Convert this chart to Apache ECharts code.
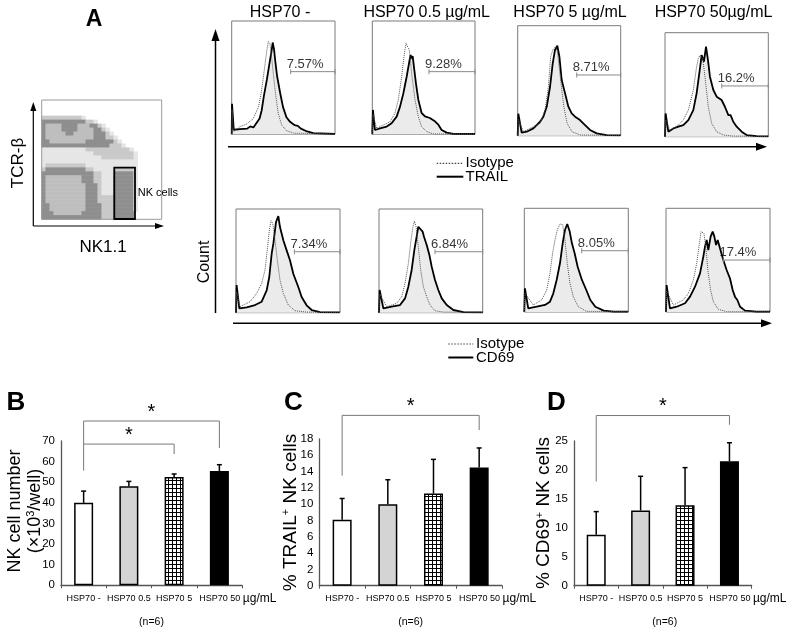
<!DOCTYPE html>
<html>
<head>
<meta charset="utf-8">
<script src="https://cdn.jsdelivr.net/npm/echarts@6/dist/echarts.min.js"></script>
<style>
html, body { margin: 0; padding: 0; background: #fff; }
#chart { width: 789px; height: 633px; }
</style>
</head>
<body>
<div id="chart"></div>
<script>
// ---- data ----
const groups = ['HSP70 -', 'HSP70 0.5', 'HSP70 5', 'HSP70 50'];
const unit = 'µg/mL';
const headers = ['HSP70 -', 'HSP70 0.5 µg/mL', 'HSP70 5 µg/mL', 'HSP70 50µg/mL'];

// B: NK cell number (x10^3/well), mean and SD
const nkMean = [40.0, 48.0, 52.5, 55.4];
const nkSd = [5.7, 2.4, 1.5, 3.1];
// C: % TRAIL+ NK cells
const trailMean = [8.1, 10.0, 11.3, 14.5];
const trailSd = [2.6, 3.0, 4.2, 2.4];
// D: % CD69+ NK cells
const cd69Mean = [8.8, 13.0, 13.9, 21.5];
const cd69Sd = [4.0, 5.9, 6.5, 3.2];

// significance brackets: [from, to, level, left foot, right foot]
const nkBrackets = [[0, 2, 68.5, 55.6, 63.7], [0, 3, 79.7, 68.5, 66.6]];
const trailBrackets = [[0, 3, 20.9, 13.5, 19.1]];
const cd69Brackets = [[0, 3, 29.4, 18.0, 27.8]];

// histogram labels and gate markers (channel %, height %)
const trailPct = ['7.57%', '9.28%', '8.71%', '16.2%'];
const cd69Pct = ['7.34%', '6.84%', '8.05%', '17.4%'];
const trailGate = [57.1, 55.2, 57.3, 54.9];
const trailGateY = [55.3, 55.3, 55.2, 48.8];
const cd69Gate = [56.1, 54.0, 55.2, 55.1];
const cd69GateY = [58.8, 58.8, 59.1, 50.1];

// histograms, [channel %, count %]
const trailAb = [
  [[0,0],[0.3,27],[2,4],[8,4.5],[15,5],[18,7],[21,6],[24,10],[27,14],[29,21],[31,33],[34,48],[37,65],[38.5,73],[39.7,81],[41,75],[42,66],[44,51],[47,36],[49.7,24],[53,15],[56.5,11],[61,8],[64,7.5],[67,5],[73,2.5],[79,1],[100,0.3]],
  [[0,0],[0.6,21.5],[2.6,3.8],[7.5,5.3],[14,6.8],[18.8,9.7],[23.7,15.6],[27,24.4],[30.2,36],[33.4,50.6],[36,64],[37.3,70],[38.3,67],[39.3,69],[40.6,59],[42.5,45],[44.8,30.6],[48,18.8],[51.3,15.9],[56,14.4],[61,11.5],[64.3,8.5],[67.5,3.8],[72.4,1.5],[79,0.3],[100,0.3]],
  [[0,0],[0.6,20],[3.9,2.7],[8.7,3.6],[15.2,6.7],[18.4,9.7],[21.7,12.7],[24.9,17.3],[28.2,26.4],[31.4,44.5],[34,65.8],[36.2,77.9],[38.5,81.8],[40.5,71.8],[42.7,50.6],[46,38.5],[49.2,26.4],[52.4,20.3],[55.7,17.3],[60.5,14.2],[65.4,9.7],[70.2,5.2],[76.7,2.1],[86.4,0.6],[100,0.3]],
  [[0,0],[0.6,22.4],[3.2,4.8],[8.1,8],[12.9,9.6],[17.7,11.2],[22.6,16],[27.4,25.6],[30.6,41.7],[33.2,60.9],[35.5,78.5],[36.5,80.1],[37.7,72.1],[39.7,86.5],[41.6,73.7],[43.5,57.7],[46.8,44.9],[50,38.5],[54.8,35.3],[58,28.8],[61.3,20.8],[63.5,20.8],[66.1,14.4],[69.4,9.6],[74.2,4.8],[79,1.6],[88.7,0.6],[100,0.3]]
];
const trailIso = [
  [[0,0],[0.3,22],[1.6,2.4],[8,6.8],[14.5,9],[21,14],[26,24.4],[29,39],[32,60],[34,74],[35.5,82],[37,80],[39,65],[42,39],[45,18.5],[48.4,8.2],[53,3.2],[60,1],[100,0.3]],
  [[0,0],[0.6,18],[4.2,5.3],[10.7,8.2],[17.2,11],[22,18.5],[25.3,30.3],[28.6,50.9],[30.8,68.5],[32.8,80.3],[34.1,81.8],[36,74.4],[38.3,53.8],[41.6,30.3],[44.8,15.6],[48,6.8],[53,2.4],[59.4,0.3],[100,0.3]],
  [[0,0],[0.6,15],[5.5,3.6],[15.2,8.2],[21.7,11.2],[26.5,23.3],[29.8,44.5],[32,71.8],[34,77.9],[36.6,80.9],[37.5,81.5],[38.5,76.4],[41.7,50.6],[44.8,26.4],[48,11.2],[52.8,3.6],[60.8,0.6],[100,0.3]],
  [[0,0],[0.6,16],[4.8,6.4],[11.3,9.6],[17.7,16],[22.6,25.6],[27.4,44.9],[30.6,67.3],[32.3,75.3],[33.9,78.5],[36.5,75.3],[38.7,57.7],[41.9,28.8],[45.2,12.8],[50,4.8],[56.5,1.6],[66.1,0.6],[100,0.3]]
];
const cd69Ab = [
  [[0,0],[0.6,26.7],[3.2,4.2],[10.3,5.1],[18.3,7.4],[24.7,10.6],[29.5,21.5],[32,34.4],[34.3,57],[35.9,66.6],[38.5,87.5],[40.7,93.2],[42.3,82.6],[45.5,69.8],[48.7,60.1],[51.9,50.5],[55.1,37.6],[59.9,24.8],[63.1,15.1],[67.9,7.1],[72.8,2.6],[80.8,0.6],[100,0.3]],
  [[0,0],[0.6,21.9],[4.2,4.2],[12.2,5.8],[20.3,7.4],[25.1,13.8],[28.3,25.1],[31.5,41.2],[34.1,60.5],[36.3,73.3],[37.9,82.9],[39.5,84.6],[42.1,78.1],[43.4,73.3],[46,65.3],[48.6,55.6],[50.8,44.4],[54,31.5],[57.2,21.9],[60.5,13.8],[65.3,7.4],[71.7,2.6],[81.4,0.6],[100,0.3]],
  [[0,0],[0.6,22.8],[3.8,3.5],[11.9,5.1],[19.9,6.8],[24.7,10],[27.9,18],[31.1,30.9],[34.3,47],[36.9,66.2],[39.1,79.1],[41.3,84.9],[43.6,77.8],[45.8,66.2],[48.4,56.6],[51.3,43.7],[55.4,30.9],[59.6,21.2],[63.5,11.6],[68.3,5.1],[76.3,1.3],[85.9,0.3],[100,0.3]],
  [[0,0],[0.6,26],[3.8,3.5],[10.3,5.1],[18.3,8.4],[23.1,14.8],[27.9,24.4],[32.7,37.3],[35.9,53.4],[37.5,63],[39.1,69.5],[40.7,59.8],[42.9,72.7],[44.9,77.5],[46.5,72.7],[48.1,64.6],[49.7,69.5],[51.9,61.4],[55.1,50.2],[58.3,40.5],[61.5,32.5],[64.1,21.2],[66.3,14.8],[68.6,11.6],[71.2,5.1],[76,1.3],[87.2,0.3],[100,0.3]]
];
const cd69Iso = [
  [[0,0],[0.6,20],[3.8,5.8],[13.5,10.6],[19.9,18.6],[24.7,28.3],[27.9,41.2],[30.4,63.7],[32.1,79.7],[33.7,88.7],[35.3,86.2],[37.5,70.1],[39.7,50.8],[42.3,31.5],[45.5,18.6],[50.3,7.4],[56.7,1.9],[67.9,0.6],[100,0.3]],
  [[0,0],[0.6,18],[7.4,5.8],[17,9],[21.9,15.4],[25.1,28.3],[28.3,47.6],[30.5,66.9],[32.5,81.4],[34.1,88.4],[35.7,82.9],[37.9,63.7],[40.2,41.2],[42.8,25.1],[46,15.4],[49.2,7.4],[54,1.9],[62.1,0.6],[100,0.3]],
  [[0,0],[0.6,18],[8.7,6.8],[16.7,11.6],[21.5,21.2],[24.7,37.3],[27.2,56.6],[29.5,69.5],[31.7,79.1],[34.3,84.9],[35.3,85.5],[36.9,84.2],[39.1,69.5],[41.3,46.9],[43.9,27.7],[47.1,14.8],[51.9,5.1],[59.9,0.6],[100,0.3]],
  [[0,0],[0.6,20],[7.1,6.8],[16.7,11.6],[21.5,18],[26.3,30.9],[29.5,46.9],[32.1,66.2],[33.7,77.5],[35.3,79.1],[36.5,75.9],[38.5,60.5],[40.4,38.9],[42.9,21.2],[45.5,10],[50.3,2.6],[58.3,0.3],[100,0.3]]
];

// NK1.1 vs TCR-b dot plot, coarse density levels (row 0 = top)
// 0 empty, 1 sparse, 2 medium, 3 dense rim, 4 dense core
const dotDensity = [
  '000000000000000000000000000000',
  '000000000000000000000000000000',
  '000000000000000000000000000000',
  '000000000000000000000000000000',
  '222222222210000000000000000000',
  '333333333332210000000000000000',
  '344443333444332100000000000000',
  '344443333444433210000000000000',
  '344444334444433321000000000000',
  '344444444444433322100000000000',
  '334444444443333333210000000000',
  '333333333333333332221000000000',
  '111111111112222222222210000000',
  '111111111111122222222221000000',
  '111111111111111222222221000000',
  '111111111111111111111111000000',
  '122222222221111111111111000000',
  '233333333332211111222221000000',
  '333333333333322111333331000000',
  '344444444433322111333331000000',
  '344444444433322111333331000000',
  '344444444443332111333331000000',
  '344444444443332111333331000000',
  '344444444443332111333331000000',
  '344444444443332222333331000000',
  '344444444443332222333331000000',
  '334444444443333222333331000000',
  '334444444443333222333331000000',
  '333444444433333222333330000000',
  '333333333333333222333330000000'
];

// ---- layout ----
const SANS = "'Liberation Sans', Arial, sans-serif";
const dotShades = ['#ffffff', '#e6e6e6', '#c9c9c9', '#8e8e8e', '#bebebe'];

const trailBoxes = [[231.7, 21, 103.3, 113.3], [372.3, 21, 102.7, 113.3], [517.7, 25.7, 103, 110], [665, 32.7, 103.3, 104]];
const cd69Boxes = [[236, 209, 104, 103.7], [379, 209, 103.7, 103.7], [524.3, 208.3, 104, 103.7], [666, 208.3, 104, 103.7]];

const grid = [], xAxis = [], yAxis = [], series = [];

function addGrid(g, x, y) {
  grid.push(g);
  const i = grid.length - 1;
  xAxis.push(Object.assign({ gridIndex: i }, x));
  yAxis.push(Object.assign({ gridIndex: i }, y));
  return i;
}

// dot plot
(function () {
  const cols = dotDensity[0].split('').map((_, i) => i);
  const rows = dotDensity.map((_, i) => i);
  const gi = addGrid({ left: 41.7, top: 100, width: 120, height: 119.3 },
    { type: 'category', data: cols, show: false },
    { type: 'category', data: rows, show: false, inverse: true });
  const cells = [];
  dotDensity.forEach((row, r) => {
    row.split('').forEach((ch, c) => {
      const lv = +ch;
      if (lv > 0) cells.push({ value: [c, r, lv], itemStyle: { color: dotShades[lv] } });
    });
  });
  series.push({ type: 'heatmap', xAxisIndex: gi, yAxisIndex: gi, data: cells, silent: true, itemStyle: { borderWidth: 0 } });
})();

// histograms
function addHist(box, ab, iso, gx, gy, pct) {
  const gi = addGrid({ left: box[0], top: box[1], width: box[2], height: box[3], show: true, borderColor: '#7a7a7a', borderWidth: 1, backgroundColor: '#fff' },
    { type: 'value', min: 0, max: 100, show: false },
    { type: 'value', min: 0, max: 100, show: false });
  const common = { xAxisIndex: gi, yAxisIndex: gi, silent: true, animation: false };
  series.push(Object.assign({ type: 'line', data: ab, showSymbol: false, z: 2,
    lineStyle: { color: '#000', width: 1.8 }, areaStyle: { color: '#ebebeb', opacity: 1 } }, common));
  series.push(Object.assign({ type: 'line', data: iso, showSymbol: false, z: 3,
    lineStyle: { color: '#555', width: 1, type: 'dotted' } }, common));
  series.push(Object.assign({ type: 'line', data: [[gx, gy], [100, gy]], symbol: 'rect', symbolSize: [1, 5], showSymbol: true, z: 3,
    itemStyle: { color: '#8a8a8a' }, lineStyle: { color: '#8a8a8a', width: 1 } }, common));
  series.push(Object.assign({ type: 'scatter', data: [[gx + 14, gy]], symbolSize: 0, z: 4,
    label: { show: true, position: 'top', distance: 1, formatter: pct, fontSize: 13, fontFamily: SANS, color: '#000' } }, common));
}
trailBoxes.forEach((b, i) => addHist(b, trailAb[i], trailIso[i], trailGate[i], trailGateY[i], trailPct[i]));
cd69Boxes.forEach((b, i) => addHist(b, cd69Ab[i], cd69Iso[i], cd69Gate[i], cd69GateY[i], cd69Pct[i]));

// bar charts
function checkPattern() {
  const c = document.createElement('canvas');
  c.width = 4; c.height = 4;
  const g = c.getContext('2d');
  g.fillStyle = '#000'; g.fillRect(0, 0, 4, 4);
  g.fillStyle = '#fff'; g.fillRect(1, 1, 3, 3);
  return c;
}
const barFills = ['#ffffff', '#d4d4d4', { image: checkPattern(), repeat: 'repeat' }, '#000000'];
const labelRich = {
  v: { color: '#000', fontSize: 9, lineHeight: 12, fontFamily: SANS },
  u: { color: '#000', fontSize: 12, lineHeight: 12, fontFamily: SANS },
  pad: { color: 'rgba(0,0,0,0)', fontSize: 12, lineHeight: 12, fontFamily: SANS }
};

function addBars(box, yMax, yStep, means, sds, brackets) {
  const gi = addGrid({ left: box[0], top: box[1], width: box[2], height: box[3] },
    { type: 'category', data: groups,
      axisLine: { lineStyle: { color: '#555', width: 1.3 } },
      axisTick: { show: true, length: 3, lineStyle: { color: '#555' } },
      axisLabel: { margin: 7, interval: 0, rich: labelRich,
        formatter: (v, i) => i === groups.length - 1
          ? '{pad|' + unit + ' }{v|' + v + ' }{u|' + unit + '}'
          : '{v|' + v + '}' } },
    { type: 'value', min: 0, max: yMax, interval: yStep,
      axisLine: { show: true, lineStyle: { color: '#555', width: 1.3 } },
      axisTick: { show: false }, splitLine: { show: false },
      axisLabel: { color: '#000', fontSize: 11.5, fontFamily: SANS, margin: 6 } });
  series.push({ type: 'bar', xAxisIndex: gi, yAxisIndex: gi, barWidth: 19, silent: true, z: 2,
    data: means.map((m, i) => ({ value: m, itemStyle: { color: barFills[i], borderColor: '#000', borderWidth: 1.5 } })) });
  series.push({ type: 'custom', xAxisIndex: gi, yAxisIndex: gi, silent: true, z: 3,
    data: means.map((m, i) => [i, m, m + sds[i]]), encode: { x: 0, y: [1, 2] },
    renderItem: (params, api) => {
      const b = api.coord([api.value(0), api.value(1)]);
      const t = api.coord([api.value(0), api.value(2)]);
      return { type: 'group', children: [
        { type: 'line', shape: { x1: b[0], y1: b[1], x2: t[0], y2: t[1] }, style: { stroke: '#000', lineWidth: 1.5 } },
        { type: 'line', shape: { x1: t[0] - 2.5, y1: t[1], x2: t[0] + 2.5, y2: t[1] }, style: { stroke: '#000', lineWidth: 1.5 } }
      ] };
    } });
  series.push({ type: 'custom', xAxisIndex: gi, yAxisIndex: gi, silent: true, clip: false, z: 3,
    data: brackets, encode: { x: [0, 1], y: [2, 3, 4] },
    renderItem: (params, api) => {
      const a = api.value(0), b = api.value(1), lv = api.value(2);
      const p1 = api.coord([a, api.value(3)]), p2 = api.coord([a, lv]);
      const p3 = api.coord([b, lv]), p4 = api.coord([b, api.value(4)]);
      return { type: 'group', children: [
        { type: 'polyline', shape: { points: [p1, p2, p3, p4] }, style: { stroke: '#777', lineWidth: 1, fill: 'none' } },
        { type: 'text', x: (p2[0] + p3[0]) / 2, y: p2[1] + 1,
          style: { text: '*', fontSize: 20, fontFamily: SANS, fill: '#000', align: 'center', verticalAlign: 'bottom' } }
      ] };
    } });
}
const nkBox = [61, 441, 181, 144.3];
const trailBox = [319.3, 439, 182.7, 146.7];
const cd69Box = [574, 441, 181.5, 144.7];
addBars(nkBox, 70, 10, nkMean, nkSd, nkBrackets);
addBars(trailBox, 18, 2, trailMean, trailSd, trailBrackets);
addBars(cd69Box, 25, 5, cd69Mean, cd69Sd, cd69Brackets);

// ---- graphics: panel letters, axis arrows, legends, names ----
function txt(x, y, text, size, opts) {
  return Object.assign({ type: 'text', x: x, y: y, z: 10,
    style: Object.assign({ text: text, fontSize: size, fontFamily: SANS, fill: '#000', align: 'center', verticalAlign: 'middle' }, (opts && opts.style) || {}) },
    (opts && opts.el) || {});
}
function seg(x1, y1, x2, y2, w, extra) {
  return { type: 'line', z: 10, shape: { x1: x1, y1: y1, x2: x2, y2: y2 }, style: Object.assign({ stroke: '#000', lineWidth: w }, extra || {}) };
}
function head(tx, ty, dir, len, half) {
  const pts = dir === 'up'
    ? [[tx, ty], [tx - half, ty + len], [tx + half, ty + len]]
    : [[tx, ty], [tx - len, ty - half], [tx - len, ty + half]];
  return { type: 'polygon', z: 10, shape: { points: pts }, style: { fill: '#000' } };
}
const rot = Math.PI / 2;
const g = [];

// panel A
g.push(txt(94, 20, 'A', 23, { style: { fontWeight: 'bold' } }));
headers.forEach((h, i) => g.push(txt([280, 426.7, 570, 713.5][i], 13, h, 16)));
// dot plot frame, gate and axes
g.push({ type: 'rect', z: 10, shape: { x: 41.7, y: 100, width: 120, height: 119.3 }, style: { stroke: '#9a9a9a', lineWidth: 1, fill: 'none' } });
g.push({ type: 'rect', z: 11, shape: { x: 114.3, y: 167.7, width: 20.7, height: 51.3 }, style: { stroke: '#000', lineWidth: 1.8, fill: 'none' } });
g.push(seg(33.3, 226, 33.3, 110, 1.2), head(33.3, 102, 'up', 9, 3));
g.push(seg(33.3, 226, 156, 226, 1.2), head(164, 226, 'right', 9, 3));
g.push(txt(18, 163, 'TCR-β', 17, { el: { rotation: rot } }));
g.push(txt(103, 247, 'NK1.1', 17));
g.push(txt(137.7, 193.3, 'NK cells', 11, { style: { align: 'left' } }));
// count axis and marker axes
g.push(seg(215.5, 313, 215.5, 38, 1.5), head(215.5, 29, 'up', 12, 4));
g.push(txt(205, 262, 'Count', 16, { el: { rotation: rot } }));
g.push(seg(228, 146.7, 758, 146.7, 1.5), head(767, 146.7, 'right', 11, 4));
g.push(seg(233, 323.3, 763, 323.3, 1.5), head(772, 323.3, 'right', 11, 4));
// legends
g.push(seg(436.7, 163.3, 463.3, 163.3, 1.2, { stroke: '#444', lineDash: [1.5, 1.5] }));
g.push(txt(465.5, 163.3, 'Isotype', 15, { style: { align: 'left' } }));
g.push(seg(436.7, 176.7, 463.3, 176.7, 2));
g.push(txt(465.5, 176.7, 'TRAIL', 15, { style: { align: 'left' } }));
g.push(seg(448.3, 344, 473.3, 344, 1.2, { stroke: '#444', lineDash: [1.5, 1.5] }));
g.push(txt(476, 344, 'Isotype', 15, { style: { align: 'left' } }));
g.push(seg(448.3, 357.5, 473.3, 357.5, 2));
g.push(txt(476, 357.5, 'CD69', 15, { style: { align: 'left' } }));

// panels B, C, D
g.push(txt(16, 403, 'B', 26, { style: { fontWeight: 'bold' } }));
g.push(txt(293.5, 403, 'C', 26, { style: { fontWeight: 'bold' } }));
g.push(txt(556.5, 403, 'D', 26, { style: { fontWeight: 'bold' } }));
const sup = { fontSize: 11, fontFamily: SANS, fill: '#000', verticalAlign: 'top', lineHeight: 20 };
const nm = { fontSize: 18, fontFamily: SANS, fill: '#000', lineHeight: 20 };
g.push(txt(25, 511, '{a|NK cell number}\n{a|(×10}{s|3}{a|/well)}', 18,
  { el: { rotation: rot }, style: { rich: { a: nm, s: sup } } }));
g.push(txt(290.5, 512.5, '{a|% TRAIL}{s|+}{a| NK cells}', 19,
  { el: { rotation: rot }, style: { rich: { a: Object.assign({}, nm, { fontSize: 19 }), s: sup } } }));
g.push(txt(544, 513, '{a|% CD69}{s|+}{a| NK cells}', 19,
  { el: { rotation: rot }, style: { rich: { a: Object.assign({}, nm, { fontSize: 19 }), s: sup } } }));
[nkBox, trailBox, cd69Box].forEach(b => g.push(txt(b[0] + b[2] / 2, 621.7, '(n=6)', 10.5)));

const chart = echarts.init(document.getElementById('chart'));
chart.setOption({
  animation: false,
  backgroundColor: '#fff',
  grid: grid,
  xAxis: xAxis,
  yAxis: yAxis,
  series: series,
  graphic: { elements: g }
});
</script>
</body>
</html>
